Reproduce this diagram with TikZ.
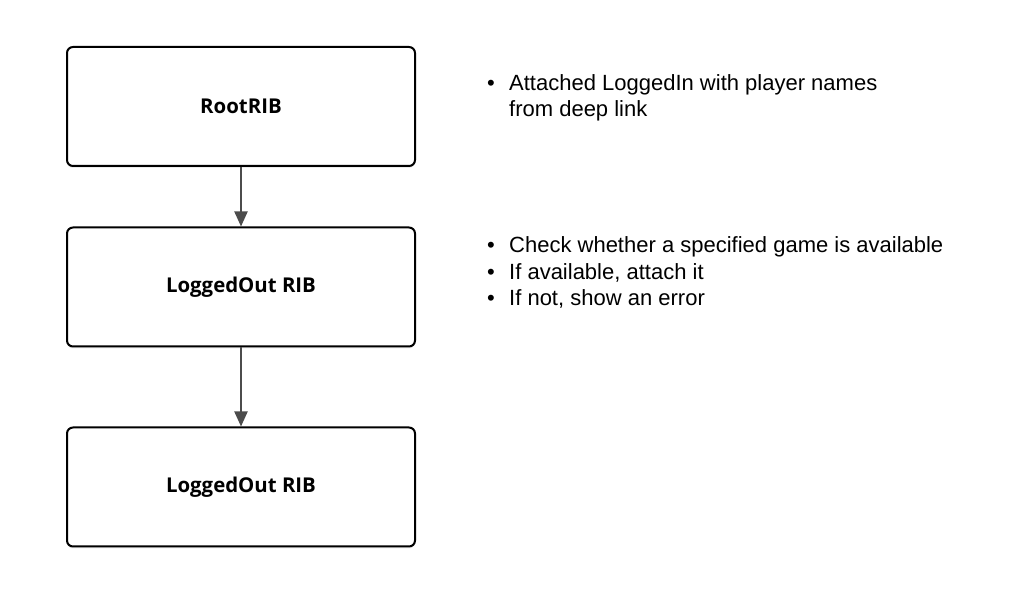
\documentclass[tikz,border=0pt]{standalone}
\usepackage{fontspec}
\setmainfont{Liberation Sans}
\newfontfamily\ribfont{Open Sans}
\usetikzlibrary{positioning,arrows.meta,shadows}
\tikzset{
	ribbox/.style={draw=black, line width=2pt, fill=white, rounded corners=6pt,
		minimum width=348pt, minimum height=119pt, inner sep=0pt,
		font=\ribfont\bfseries\fontsize{20.4}{24}\selectfont,
		drop shadow={opacity=0.15, shadow xshift=0pt, shadow yshift=-2pt}},
	ribarrow/.style={draw=black!70, line width=2pt, -{Triangle[length=15pt,width=13pt]}},
	notes/.style={anchor=base west, inner sep=0pt, align=left,
		font=\fontsize{22}{26.5}\selectfont}
}
\newcommand{\blt}{\makebox[22pt][l]{\textbullet}}
\begin{document}
\begin{tikzpicture}[x=1pt, y=1pt]
	\useasboundingbox[fill=white] (0,0) rectangle (1034,594);
	\node[ribbox] (root) at (241,487.5) {RootRIB};
	\node[ribbox] (loggedout) at (241,307) {LoggedOut RIB};
	\node[ribbox] (loggedoutb) at (241,107) {LoggedOut RIB};
	\draw[ribarrow] (root) -- (loggedout);
	\draw[ribarrow] (loggedout) -- (loggedoutb);
	% notes beside the boxes (anchored on the last line)
	\node[notes] (rootnotes) at (487,477) {\blt Attached LoggedIn with player names\\
		\hphantom{\blt}from deep link};
	\node[notes] (loggedoutnotes) at (487,288) {\blt Check whether a specified game is available\\
		\blt If available, attach it\\
		\blt If not, show an error};
\end{tikzpicture}
\end{document}
